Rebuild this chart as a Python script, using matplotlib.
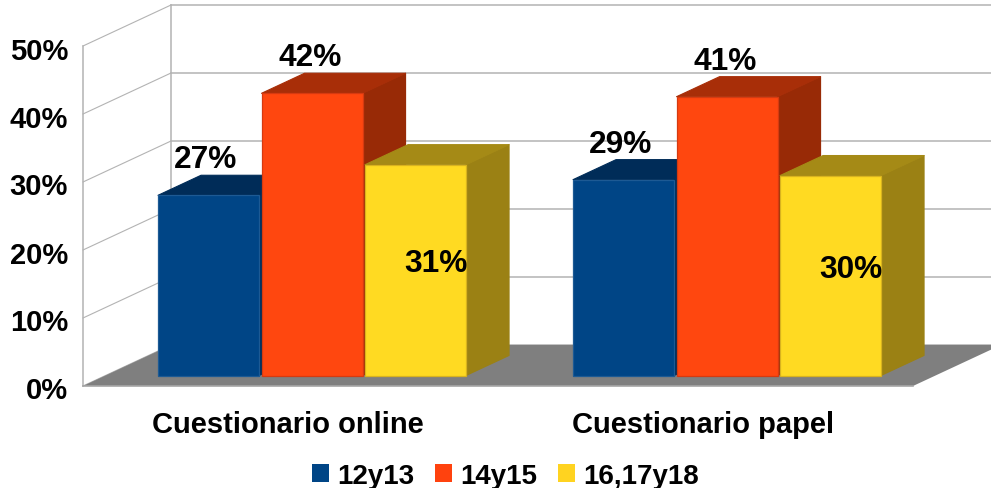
import matplotlib
matplotlib.use("Agg")
import matplotlib.pyplot as plt
from matplotlib.patches import Patch
from matplotlib.transforms import ScaledTranslation

plt.rcParams['font.family'] = ['Liberation Sans', 'DejaVu Sans']
plt.rcParams['font.weight'] = 'bold'

# ---- data ----
categories = ["Cuestionario online", "Cuestionario papel"]
series_names = ["12y13", "14y15", "16,17y18"]
values_12y13 = [26.5, 28.8]
values_14y15 = [41.5, 41.0]
values_16y18 = [31.0, 29.4]
labels_12y13 = ["27%", "29%"]
labels_14y15 = ["42%", "41%"]
labels_16y18 = ["31%", "30%"]
yticks = [0, 10, 20, 30, 40, 50]
ytick_labels = ["0%", "10%", "20%", "30%", "40%", "50%"]

# ---- style ----
W, H = 991, 489
front = ["#004586", "#ff470f", "#ffda22"]
legend_colors = ["#004586", "#ff420e", "#ffd320"]
edge = ["#1d5a94", "#d63a10", "#d9b31e"]
side = ["#002f5c", "#982a06", "#9b8114"]
top = ["#002c58", "#a82e08", "#a58a16"]
GRID = "#b3b3b3"
FLOOR = "#7f7f7f"

fig = plt.figure(figsize=(W / 100, H / 100), dpi=100)
L, R, T, B = 83, 913, 47, 387
ax = fig.add_axes([L / W, 1 - B / H, (R - L) / W, (B - T) / H])
ax.set_xlim(-0.5, 1.5)
ax.set_ylim(0, 50)
ax.patch.set_visible(False)
for s in ax.spines.values():
    s.set_visible(False)

px_x = 2.0 / (R - L)      # data units per pixel, horizontal
px_y = 50.0 / (B - T)     # data units per pixel, vertical
DX = 88 * px_x            # full depth of the 3D box in data units
DY = 41 * px_y


def proj(x, v, d):
    return x + DX * d, v + DY * d


# walls and grid
x0, x1 = -0.5, 1.5
for v in yticks:
    xa, ya = proj(x0, v, 0)
    xb, yb = proj(x0, v, 1)
    xc, yc = proj(x1, v, 1)
    ax.plot([xa, xb], [ya, yb], color=GRID, lw=0.8, clip_on=False, zorder=1)
    ax.plot([xb, xc], [yb, yc], color=GRID, lw=1.1, clip_on=False, zorder=1)
for d in (0, 1):
    xa, ya = proj(x0, yticks[0], d)
    xb, yb = proj(x0, yticks[-1], d)
    ax.plot([xa, xb], [ya, yb], color=GRID, lw=1.1, clip_on=False, zorder=1)

# floor
floor = [proj(x0, 0, 0), proj(x1, 0, 0), proj(x1, 0, 1), proj(x0, 0, 1)]
ax.fill(*zip(*floor), facecolor=FLOOR, edgecolor="none", clip_on=False, zorder=2)
ax.plot([x0, x1], [0, 0], color="#a6a6a6", lw=1.2, clip_on=False, zorder=2)

# bars
D1, D2 = 0.256, 0.745
width = 101 * px_x
pitch = 103.5 * px_x
nudge = -1 * px_x
series_vals = [values_12y13, values_14y15, values_16y18]
series_lbls = [labels_12y13, labels_14y15, labels_16y18]
for i, vals in enumerate(series_vals):
    z = 3 + i
    for c, v in enumerate(vals):
        xc = c + (i - 1) * pitch + nudge
        xl, xr = xc - width / 2, xc + width / 2
        s_poly = [proj(xr, 0, D1), proj(xr, v, D1), proj(xr, v, D2), proj(xr, 0, D2)]
        t_poly = [proj(xl, v, D1), proj(xr, v, D1), proj(xr, v, D2), proj(xl, v, D2)]
        ax.fill(*zip(*s_poly), facecolor=side[i], edgecolor=side[i], lw=0.8,
                joinstyle="round", clip_on=False, zorder=z)
        ax.fill(*zip(*t_poly), facecolor=top[i], edgecolor=top[i], lw=0.8,
                joinstyle="round", clip_on=False, zorder=z)
        ax.bar(xc + DX * D1, v, width=width, bottom=DY * D1, color=front[i],
               edgecolor=edge[i], lw=0.9, clip_on=False, zorder=z + 0.1)

# data labels: above the bar for the first two series, on the bar for the third
for i, (vals, lbls) in enumerate(zip(series_vals, series_lbls)):
    for c, (v, txt) in enumerate(zip(vals, lbls)):
        xc = c + (i - 1) * pitch + nudge + DX * D1
        if i < 2:
            xy = (xc, v + DY * D1)
            off = (-3 if i == 0 else -2, 36)
        else:
            xy = (xc, v / 2 + DY * D1)
            off = (20.5, 7)
        ax.annotate(txt, xy=xy, xytext=off, textcoords="offset pixels",
                    ha="center", va="center", fontsize=22.8, fontweight="bold",
                    color="black", zorder=10, annotation_clip=False)

# axes labels
ax.set_yticks(yticks)
ax.set_yticklabels(ytick_labels, fontsize=21, fontweight="bold")
ax.set_xticks(range(len(categories)))
ax.set_xticklabels(categories, fontsize=21, fontweight="bold")
ax.tick_params(axis="y", length=0, pad=10.8)
ax.tick_params(axis="x", length=0, pad=17.5)
xshift = ScaledTranslation(-2.5 / 100, 0, fig.dpi_scale_trans)
for lab in ax.get_xticklabels():
    lab.set_transform(lab.get_transform() + xshift)
yshift = ScaledTranslation(0, -1.5 / 100, fig.dpi_scale_trans)
for lab in ax.get_yticklabels():
    lab.set_transform(lab.get_transform() + yshift)

# legend
handles = [Patch(facecolor=c, edgecolor="none", label=n) for c, n in zip(legend_colors, series_names)]
fig.legend(handles=handles, ncol=3, frameon=False, loc="center",
           bbox_to_anchor=(505.5 / W, 1 - 477 / H), fontsize=20,
           handlelength=0.61, handleheight=0.61, handletextpad=0.32,
           columnspacing=0.72, borderpad=0, borderaxespad=0)

fig.savefig("out.png", dpi=100)
